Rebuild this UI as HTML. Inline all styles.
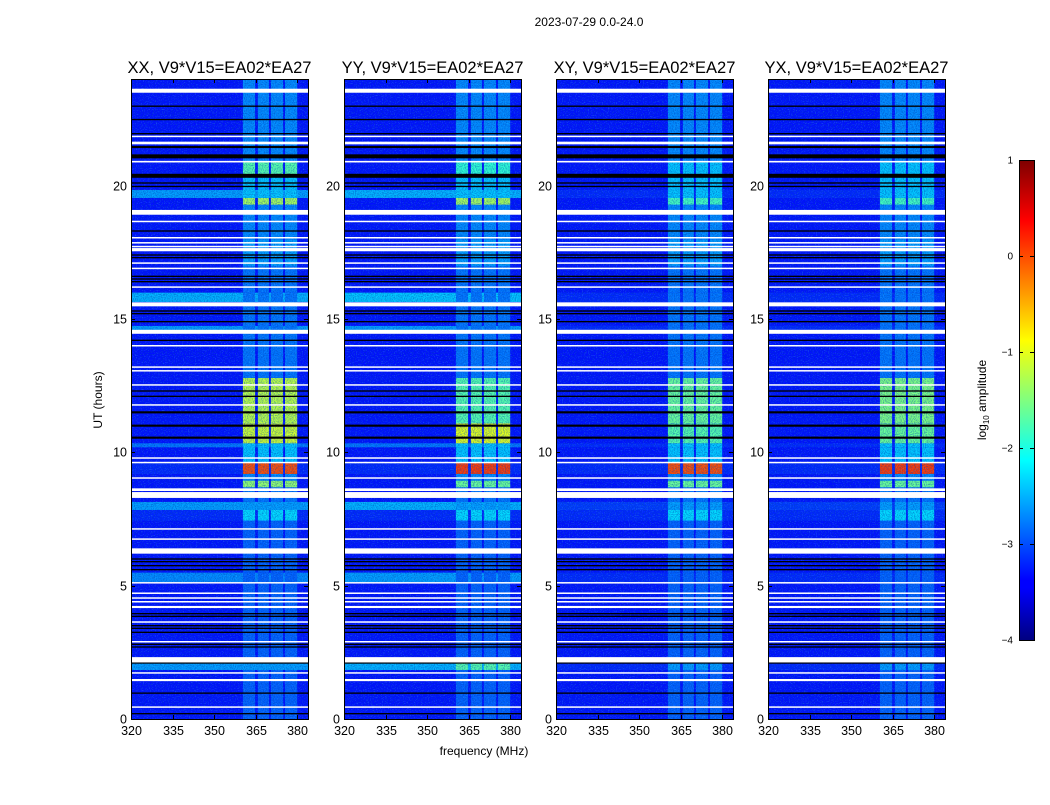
<!DOCTYPE html>
<html><head><meta charset="utf-8">
<style>
body{margin:0;background:#fff;}
svg text{font-family:"Liberation Sans",sans-serif;}
</style></head>
<body>
<svg id="fig" width="1050" height="800" viewBox="0 0 1050 800">
<defs>
<filter id="nz" x="0" y="0" width="100%" height="100%">
<feTurbulence type="fractalNoise" baseFrequency="0.9" numOctaves="1" seed="3"/>
<feColorMatrix type="matrix" values="0 0 0 0 0  0 0 0 0 0.05  0 0 0 0 0.45  3 0 0 0 -1.2"/>
</filter>
<filter id="nz2" x="0" y="0" width="100%" height="100%">
<feTurbulence type="fractalNoise" baseFrequency="0.85" numOctaves="1" seed="11"/>
<feColorMatrix type="matrix" values="0 0 0 0 0.1  0 0 0 0 0.7  0 0 0 0 1  3 0 0 0 -1.6"/>
</filter>
<linearGradient id="jet" x1="0" y1="1" x2="0" y2="0">
<stop offset="0" stop-color="#00007f"/><stop offset="0.11" stop-color="#0000ff"/>
<stop offset="0.125" stop-color="#0000ff"/><stop offset="0.375" stop-color="#00ffff"/>
<stop offset="0.625" stop-color="#ffff00"/><stop offset="0.875" stop-color="#ff0000"/>
<stop offset="1" stop-color="#7f0000"/></linearGradient>
</defs>
<text x="589" y="26" font-size="12" text-anchor="middle">2023-07-29 0.0-24.0</text>
<text x="102" y="400" font-size="12" text-anchor="middle" transform="rotate(-90 102 400)">UT (hours)</text>
<text x="484" y="755" font-size="12" text-anchor="middle">frequency (MHz)</text>
<g id="panels"></g>
<g id="cbar"></g>
</svg>
<script>
const pols = ["XX","YY","XY","YX"];
const segStart = [0,1.85,2.1,5.15,5.5,7.45,7.85,8.15,8.7,8.95,9.2,9.65,10.2,10.35,11.1,12.8,14.6,14.75,15.65,16.0,17.0,18.0,19.3,19.55,19.85,20.4,20.9];
const segEnd   = [1.85,2.1,5.15,5.5,7.45,7.85,8.15,8.7,8.95,9.2,9.65,10.2,10.35,11.1,12.8,14.6,14.75,15.65,16.0,17.0,18.0,19.3,19.55,19.85,20.4,20.9,24];
const bgXX  = [-3.3,-2.6,-3.3,-2.7,-3.3,-3.2,-2.6,-3.3,-3.3,-3.3,-3.2,-3.3,-2.8,-3.3,-3.3,-3.3,-2.6,-3.3,-2.5,-3.3,-3.3,-3.3,-3.3,-2.6,-3.3,-3.3,-3.3];
const bgYY  = [-3.3,-2.5,-3.3,-2.6,-3.3,-3.2,-2.5,-3.3,-3.3,-3.3,-3.2,-3.3,-2.8,-3.3,-3.3,-3.3,-2.6,-3.3,-2.4,-3.3,-3.3,-3.3,-3.3,-2.5,-3.3,-3.3,-3.3];
const bgXY  = [-3.3,-3.2,-3.3,-3.2,-3.3,-3.2,-3.1,-3.3,-3.3,-3.3,-3.2,-3.3,-3.2,-3.3,-3.3,-3.3,-3.2,-3.3,-3.2,-3.3,-3.3,-3.3,-3.3,-3.2,-3.3,-3.3,-3.3];
const bgYX  = [-3.3,-3.2,-3.3,-3.2,-3.3,-3.2,-3.1,-3.3,-3.3,-3.3,-3.2,-3.3,-3.2,-3.3,-3.3,-3.3,-3.2,-3.3,-3.2,-3.3,-3.3,-3.3,-3.3,-3.2,-3.3,-3.3,-3.3];
const rfiXX = [-2.9,-2.6,-2.9,-2.9,-2.9,-2.3,-2.6,-2.8,-1.4,-2.7,0.0,-2.4,-2.4,-1.1,-1.2,-2.8,-2.8,-2.8,-2.8,-2.8,-2.6,-2.7,-1.3,-2.4,-2.4,-1.7,-2.7];
const rfiYY = [-2.9,-1.7,-2.9,-2.9,-2.9,-2.3,-2.6,-2.8,-1.6,-2.7,0.1,-2.4,-2.4,-1.0,-1.7,-2.8,-2.8,-2.8,-2.8,-2.8,-2.6,-2.7,-1.3,-2.4,-2.4,-1.9,-2.7];
const rfiXY = [-2.9,-2.6,-2.9,-2.9,-2.9,-2.3,-2.6,-2.8,-1.6,-2.7,0.0,-2.4,-2.4,-1.7,-1.6,-2.8,-2.8,-2.8,-2.8,-2.8,-2.6,-2.7,-1.8,-2.4,-2.4,-2.4,-2.7];
const rfiYX = [-2.9,-2.6,-2.9,-2.9,-2.9,-2.3,-2.6,-2.8,-1.6,-2.7,0.1,-2.4,-2.4,-1.6,-1.5,-2.8,-2.8,-2.8,-2.8,-2.8,-2.6,-2.7,-1.8,-2.4,-2.4,-2.4,-2.7];
const subStart = [360.4,365.8,370.5,375.6];
const subEnd   = [364.8,369.8,374.9,380.0];
const whiteHours = [23.56,21.85,21.6,20.9,19.0,18.66,18.05,17.86,17.72,17.6,17.1,16.9,16.2,15.55,14.52,14.0,13.2,13.06,12.53,11.78,9.79,9.62,9.04,8.6,8.4,7.13,6.75,6.3,5.11,4.72,4.54,4.4,4.2,3.64,2.9,2.22,1.73,1.46,0.45];
const whiteWidth = [0.15,0.05,0.1,0.06,0.18,0.05,0.05,0.05,0.05,0.12,0.05,0.05,0.05,0.15,0.15,0.05,0.05,0.05,0.05,0.05,0.05,0.05,0.05,0.1,0.22,0.05,0.05,0.2,0.05,0.05,0.05,0.05,0.08,0.05,0.05,0.2,0.05,0.08,0.05];
const blackHours = [22.98,22.48,21.95,21.45,21.1,20.37,20.1,19.97,18.3,17.4,17.3,16.6,16.5,16.4,15.3,15.2,14.9,14.2,12.3,12.1,11.5,11.0,10.55,6.0,5.9,5.75,5.6,3.95,3.85,3.5,3.4,3.25,2.8,2.7,2.1,0.97,0.2];
const blackWidth = [0.05,0.05,0.05,0.08,0.15,0.15,0.05,0.05,0.05,0.05,0.05,0.05,0.05,0.05,0.05,0.05,0.05,0.05,0.05,0.05,0.08,0.08,0.08,0.05,0.05,0.05,0.05,0.05,0.05,0.05,0.05,0.05,0.05,0.05,0.05,0.05,0.05];
const xTicks = [320,335,350,365,380];
const yTicks = [0,5,10,15,20];
const cbTicks = [1,0,-1,-2,-3,-4];

const bgs={XX:bgXX,YY:bgYY,XY:bgXY,YX:bgYX}, rfis={XX:rfiXX,YY:rfiYY,XY:rfiXY,YX:rfiYX};
const panelX=[131,344,556,768], PW=177, PT=79, PB=719;
const NS="http://www.w3.org/2000/svg";
function el(t,a,p){const e=document.createElementNS(NS,t);for(const k in a)e.setAttribute(k,a[k]);p.appendChild(e);return e;}
function jet(v){const x=Math.max(0,Math.min(1,(v+4)/5));const c=t=>Math.round(255*Math.max(0,Math.min(1,1.5-Math.abs(4*x-t))));return `rgb(${c(3)},${c(2)},${c(1)})`;}
const yS=h=>PB-(h/24)*(PB-PT);
const root=document.getElementById('panels');
pols.forEach((p,i)=>{
  const x0=panelX[i]; const xS=f=>x0+(f-320)*2.77;
  const g=el('g',{},root);
  
  
  const bg=bgs[p], rf=rfis[p];
  segStart.forEach((s,j)=>{
    const y1=yS(segEnd[j]), y2=yS(s);
    const r=el('rect',{x:x0,y:y1,width:PW,height:y2-y1+0.3,fill:jet(bg[j])},g);
    
    
    subStart.forEach((fs,k)=>{
      const q=el('rect',{x:xS(fs),y:y1,width:xS(subEnd[k])-xS(fs),height:y2-y1+0.3,fill:jet(rf[j])},g);
      
      
    });
  });
  el('rect',{x:x0,y:PT,width:PW,height:PB-PT,filter:'url(#nz)',opacity:0.5},g);
  el('rect',{x:x0,y:PT,width:PW,height:PB-PT,filter:'url(#nz2)',opacity:0.35},g);
  blackHours.forEach((h,j)=>{const b=el('rect',{x:x0,y:yS(h+blackWidth[j]/2),width:PW,height:Math.max(1,blackWidth[j]*26.65),fill:'#000'},g);
    
    });
  whiteHours.forEach((h,j)=>{const w=el('rect',{x:x0,y:yS(h+whiteWidth[j]/2),width:PW,height:Math.max(1.5,whiteWidth[j]*26.65),fill:'#fff'},g);
    
    });
  el('rect',{x:x0+0.5,y:PT+0.5,width:PW,height:PB-PT,fill:'none',stroke:'#000','stroke-width':1},g);
  const t=el('text',{x:x0+PW/2,y:PT-6,'font-size':16.5,'text-anchor':'middle'},g);t.textContent=p+', V9*V15=EA02*EA27';
  
  
  xTicks.forEach(f=>{const x=Math.round(xS(f))+0.5;
    el('line',{x1:x,x2:x,y1:PB,y2:PB-4,stroke:'#000'},g);el('line',{x1:x,x2:x,y1:PT,y2:PT+4,stroke:'#000'},g);
    const l=el('text',{x:x,y:PB+16,'font-size':12.5,'text-anchor':'middle'},g);l.textContent=f;
    
    });
  yTicks.forEach(h=>{const y=Math.round(yS(h))+0.5;
    el('line',{x1:x0,x2:x0+4,y1:y,y2:y,stroke:'#000'},g);el('line',{x1:x0+PW,x2:x0+PW-4,y1:y,y2:y,stroke:'#000'},g);
    const l=el('text',{x:x0-4,y:y+4,'font-size':12.5,'text-anchor':'end'},g);l.textContent=h;
    
    });
});
const cb=document.getElementById('cbar');
el('rect',{x:1019.5,y:160.5,width:15,height:480,fill:'url(#jet)',stroke:'#000'},cb);
cbTicks.forEach(v=>{const y=160.5+(1-v)/5*480;
  el('line',{x1:1019,x2:1023,y1:y,y2:y,stroke:'#000'},cb);el('line',{x1:1034,x2:1030,y1:y,y2:y,stroke:'#000'},cb);
  const l=el('text',{x:1013,y:y+3,'font-size':10,'text-anchor':'end'},cb);l.textContent=(v<0?'\u2212'+(-v):v);
  
  });
const lab=el('text',{x:986,y:400,'font-size':12,'text-anchor':'middle',transform:'rotate(-90 986 400)'},cb);
lab.innerHTML='log<tspan font-size="8" dy="3">10</tspan><tspan dy="-3"> amplitude</tspan>';


</script>
</body></html>
